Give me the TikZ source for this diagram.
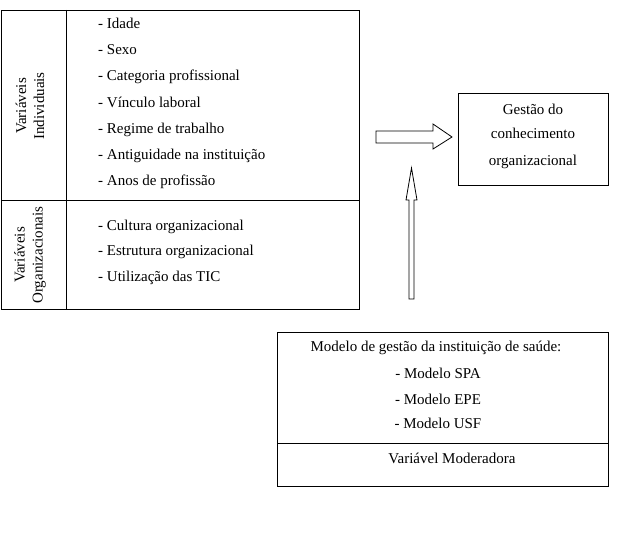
\documentclass[tikz,border=0pt]{standalone}
\usepackage{fontspec}
\setmainfont{Liberation Serif}

\tikzset{
	item/.style={anchor=base west, inner sep=0pt, font=\fontsize{15}{18}\selectfont},
	ctext/.style={anchor=base, inner sep=0pt, align=center, font=\fontsize{15}{25.5}\selectfont},
	sidelabel/.style={inner sep=0pt, align=center, rotate=90, font=\fontsize{15}{18}\selectfont},
	frame/.style={draw, line width=0.8pt},
	blockarrow/.style={draw, line width=0.8pt, line join=miter}
}

\begin{document}
\begin{tikzpicture}[x=1pt, y=-1pt]
	\useasboundingbox (0, 0) rectangle (619, 551);
	% Left table: variables
	\coordinate (T1) at (1, 10);
	\coordinate (T2) at (359, 309);
	\draw[frame] (T1) rectangle (T2);
	\draw[frame] (66, 10) -- (66, 309);
	\draw[frame] (1, 200) -- (359, 200);
	\node[sidelabel] (indiv) at (30, 106) {Variáveis\\Individuais};
	\node[sidelabel] (organ) at (30, 255) {Variáveis\\Organizacionais};
	\node[item] (i1) at (98, 29) {- Idade};
	\node[item] (i2) at (98, 55) {- Sexo};
	\node[item] (i3) at (98, 81) {- Categoria profissional};
	\node[item] (i4) at (98, 107) {- Vínculo laboral};
	\node[item] (i5) at (98, 133) {- Regime de trabalho};
	\node[item] (i6) at (98, 159) {- Antiguidade na instituição};
	\node[item] (i7) at (98, 185) {- Anos de profissão};
	\node[item] (o1) at (98, 230) {- Cultura organizacional};
	\node[item] (o2) at (98, 255) {- Estrutura organizacional};
	\node[item] (o3) at (98, 281) {- Utilização das TIC};
	% Outcome box
	\draw[frame] (458, 93) rectangle (608, 185);
	\node[ctext] (g1) at (533, 114) {Gestão do};
	\node[ctext] (g2) at (533, 139) {conhecimento};
	\node[ctext] (g3) at (533, 165) {organizacional};
	% Moderator box
	\draw[frame] (277, 332) rectangle (608, 486);
	\draw[frame] (277, 443) -- (608, 443);
	\node[ctext] (m0) at (436, 351) {Modelo de gestão da instituição de saúde:};
	\node[ctext] (m1) at (438, 378) {- Modelo SPA};
	\node[ctext] (m2) at (438, 404) {- Modelo EPE};
	\node[ctext] (m3) at (438, 428) {- Modelo USF};
	\node[ctext] (mod) at (452, 463) {Variável Moderadora};
	% Block arrows
	\draw[blockarrow] (376, 131) -- (433, 131) -- (433, 124) -- (452, 137)
		-- (433, 149) -- (433, 143) -- (376, 143) -- cycle;
	\draw[blockarrow] (409, 299) -- (409, 200) -- (406, 200) -- (411.5, 168)
		-- (417, 200) -- (414, 200) -- (414, 299) -- cycle;
\end{tikzpicture}
\end{document}
